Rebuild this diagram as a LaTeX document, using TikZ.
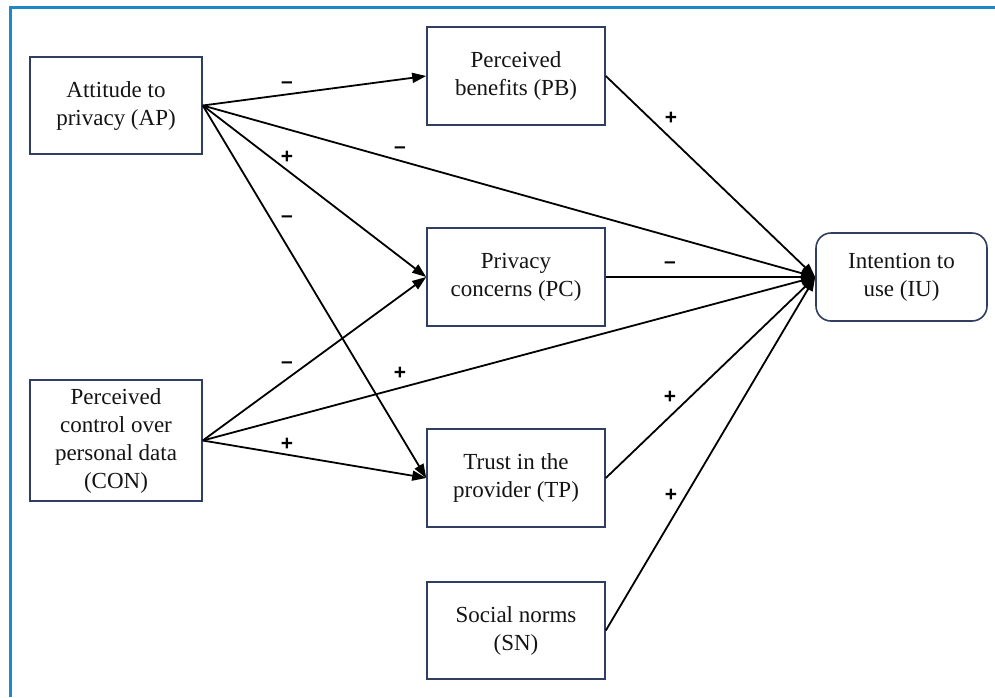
\documentclass[tikz,border=0pt]{standalone}
\usepackage{fontspec}
\setmainfont{Liberation Serif}
\newfontfamily\signfont{Liberation Sans}
\usetikzlibrary{arrows.meta}
\definecolor{framecol}{RGB}{30,136,200}
\definecolor{boxcol}{RGB}{48,62,98}
\definecolor{inkcol}{RGB}{20,20,20}
\tikzset{
  construct/.style={draw=boxcol, line width=1.6pt, rectangle, align=center,
    inner sep=0pt, text=inkcol,
    font=\fontsize{23}{28}\selectfont},
  outcome/.style={construct, rounded corners=15pt},
  path/.style={draw=black, line width=1.8pt,
    -{Triangle[length=14pt,width=10pt]}},
  sign/.style={inner sep=0pt, text=black,
    font=\signfont\bfseries\fontsize{21}{21}\selectfont},
}
\begin{document}
\begin{tikzpicture}[x=1pt, y=-1pt]
\useasboundingbox (0,0) rectangle (995,697);
% outer frame (top and left edges)
\draw[framecol, line width=3pt] (10,697) -- (10,7) -- (995,7);

% constructs
\node[construct, minimum width=172pt, minimum height=97pt] (AP) at (116,105.5) {Attitude to\\privacy (AP)};
\node[construct, minimum width=172pt, minimum height=121pt] (CON) at (116,440.5) {Perceived\\control over\\personal data\\(CON)};
\node[construct, minimum width=178pt, minimum height=98pt] (PB) at (516,76) {Perceived\\benefits (PB)};
\node[construct, minimum width=178pt, minimum height=98pt] (PC) at (516,277) {Privacy\\concerns (PC)};
\node[construct, minimum width=178pt, minimum height=98pt] (TP) at (516,478) {Trust in the\\provider (TP)};
\node[construct, minimum width=178pt, minimum height=97pt] (SN) at (516,630.5) {Social norms\\(SN)};
\node[outcome, minimum width=171pt, minimum height=88pt] (IU) at (901.5,277) {Intention to\\use (IU)};

% hypothesised paths
\draw[path] (AP.east) -- (PB.west);
\draw[path] (AP.east) -- (IU.west);
\draw[path] (AP.east) -- (PC.west);
\draw[path] (AP.east) -- (TP.west);
\draw[path] (CON.east) -- (PC.west);
\draw[path] (CON.east) -- (IU.west);
\draw[path] (CON.east) -- (TP.west);
\draw[path] (PB.east) -- (IU.west);
\draw[path] (PC.east) -- (IU.west);
\draw[path] (TP.east) -- (IU.west);
\draw[path] (SN.east) -- (IU.west);

% path signs
\node[sign] (s1) at (287,85) {–};
\node[sign] (s2) at (400,150) {–};
\node[sign] (s3) at (287,157) {+};
\node[sign] (s4) at (287,219) {–};
\node[sign] (s5) at (287,365) {–};
\node[sign] (s6) at (400,373) {+};
\node[sign] (s7) at (287,444) {+};
\node[sign] (s8) at (671,118) {+};
\node[sign] (s9) at (670,265) {–};
\node[sign] (s10) at (670,397) {+};
\node[sign] (s11) at (671,495) {+};
\end{tikzpicture}
\end{document}
